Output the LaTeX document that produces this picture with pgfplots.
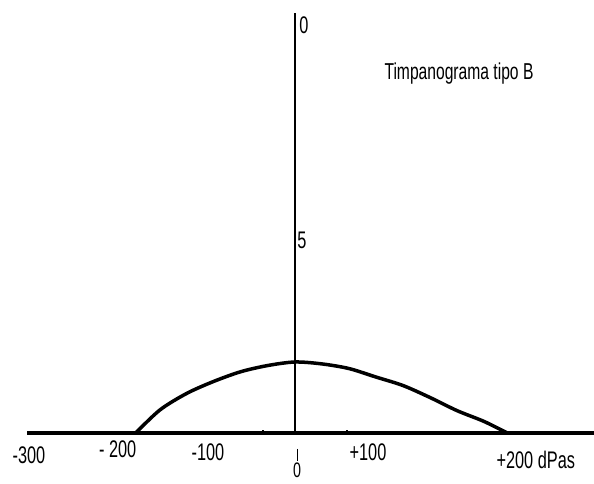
\documentclass[border=0pt]{standalone}
\usepackage{pgfplots}
\pgfplotsset{compat=1.18}
\usepackage{fontspec}
\setmainfont{Liberation Sans}[FakeStretch=0.68]

\begin{document}
\begin{tikzpicture}
\begin{axis}[
  scale only axis,
  width=594pt, height=483pt,
  xmin=-327.8, xmax=332.2,
  ymin=-1.295, ymax=11.218,
  hide axis,
  clip=false,
]
% pressure axis and compliance axis
\addplot[black, line width=3.5pt] coordinates {(-297.8,0) (332.2,0)};
\addplot[black, line width=2.6pt] coordinates {(0,0) (0,10.88)};
% small marks on the pressure axis
\addplot[black, line width=1.5pt] coordinates {(-35.6,0) (-35.6,0.09)};
\addplot[black, line width=1.5pt] coordinates {(57.8,0) (57.8,0.09)};
\addplot[black, line width=1pt] coordinates {(2.2,-0.41) (2.2,-0.72)};

% flat type-B tympanogram
\addplot[black, line width=3.5pt, smooth, tension=0.5] coordinates {
  (-177,0) (-150,0.60) (-120,1.03) (-90,1.34) (-60,1.59) (-30,1.75)
  (0,1.84) (30,1.79) (60,1.67) (90,1.45) (120,1.23) (150,0.92)
  (180,0.58) (210,0.30) (236,0)
};

% labels
\tikzset{lbl/.style={font=\fontsize{24}{26}\selectfont}}
\node[lbl] at (axis cs:-295.6,-0.57) {-300};
\node[lbl] at (axis cs:-197,-0.41) {- 200};
\node[lbl] at (axis cs:-96.7,-0.49) {-100};
\node[lbl] at (axis cs:81.1,-0.49) {+100};
\node[lbl, anchor=west] at (axis cs:220,-0.70) {+200 dPas};
\node[font=\fontsize{21}{23}\selectfont, inner sep=0pt, anchor=south] at (axis cs:2.2,-1.15) {0};
\node[lbl, anchor=west, inner sep=0pt] at (axis cs:4.5,10.57) {0};
\node[lbl, anchor=west, inner sep=0pt] at (axis cs:2.5,5.0) {5};
\node[font=\fontsize{23}{25}\selectfont] at (axis cs:182.2,9.30) {Timpanograma tipo B};
\end{axis}
\pgfresetboundingbox
\path[use as bounding box] (current axis.south west) rectangle (current axis.north east);
\end{tikzpicture}
\end{document}
